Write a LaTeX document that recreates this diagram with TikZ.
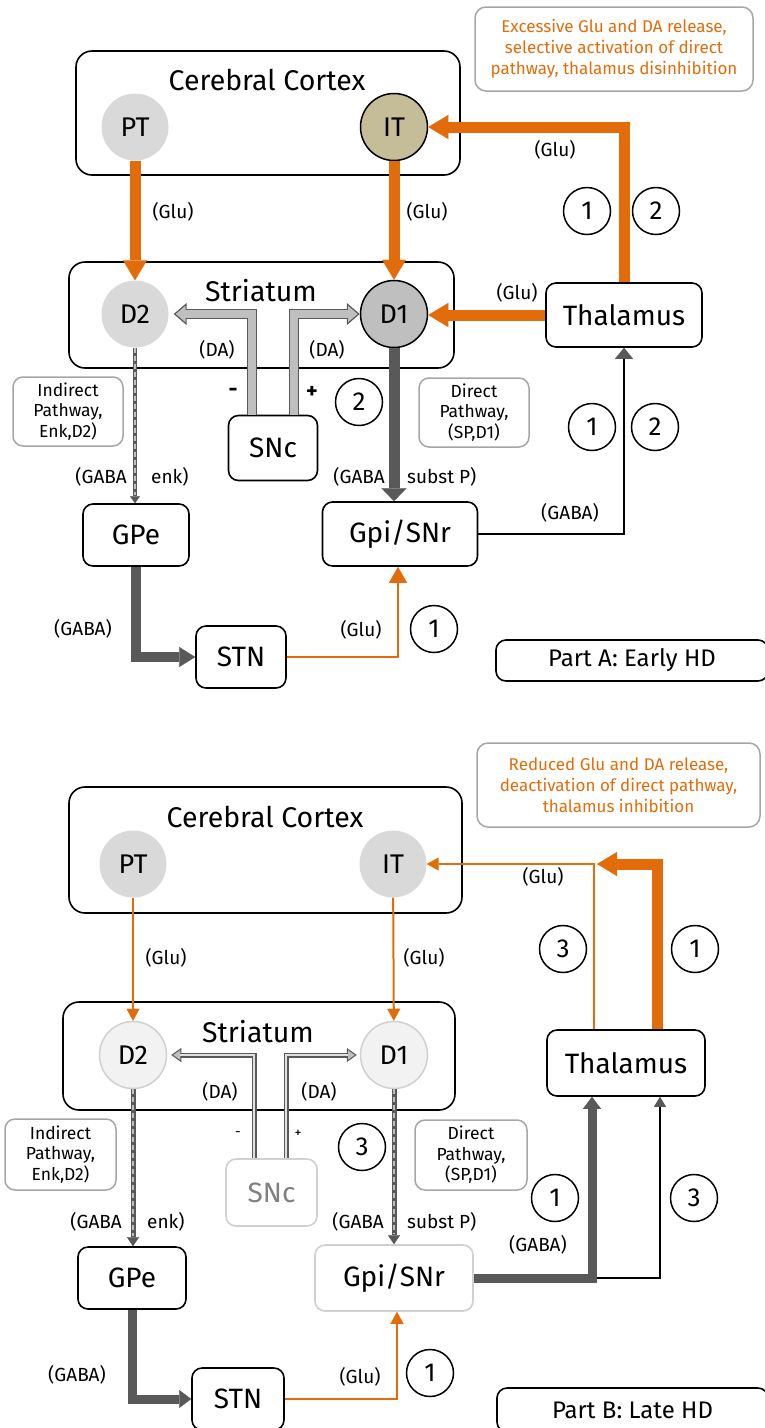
\documentclass[tikz,border=0pt]{standalone}
\usepackage{fontspec}
\setmainfont{Fira Sans}
\usetikzlibrary{arrows.meta}
\definecolor{orng}{HTML}{E36C0A}
\definecolor{dgray}{HTML}{595959}
\definecolor{lgray}{HTML}{BFBFBF}
\definecolor{cgray}{HTML}{D9D9D9}
\definecolor{itTan}{HTML}{C4BD97}
\definecolor{pale}{HTML}{F2F2F2}
\definecolor{bgray}{HTML}{A6A6A6}
\definecolor{sgray}{HTML}{D0D0D0}
\definecolor{mgray}{HTML}{808080}
\definecolor{wgray}{HTML}{E0E0E0}
\begin{document}
\begin{tikzpicture}[x=1pt,y=-1pt,
 bigbox/.style={draw, line width=1.6, rounded corners=16, inner sep=0},
 nbox/.style={draw, line width=1.6, rounded corners=10, fill=white, inner sep=0, font=\fontsize{28}{30}\selectfont},
 note/.style={draw=bgray, line width=1.5, rounded corners=11, align=center, inner sep=0, text=orng, font=\fontsize{17}{21}\selectfont},
 pathbox/.style={draw=bgray, line width=1.5, rounded corners=10, align=center, inner sep=0, font=\fontsize{17.5}{20.5}\selectfont},
 ttl/.style={font=\fontsize{28.5}{30}\selectfont},
 neu/.style={circle, minimum size=67, inner sep=0, font=\fontsize{27}{27}\selectfont},
 lbl/.style={font=\fontsize{19}{21}\selectfont, inner sep=0},
 num/.style={circle, draw, line width=1.5, minimum size=47, inner sep=0, font=\fontsize{26}{26}\selectfont},
 othick/.style={draw=orng, line width=11, -{Triangle[width=24,length=20,line width=0.1pt]}},
 othin/.style={draw=orng, line width=2, -{Triangle[width=18,length=16,line width=0.1pt]}},
 othinB/.style={draw=orng, line width=2, -{Triangle[width=13,length=12,line width=0.1pt]}},
 dthick/.style={draw=dgray, line width=11, -{Triangle[width=25,length=13,line width=0.1pt]}},
 dmid/.style={draw=dgray, line width=10, -{Triangle[width=20,length=16,line width=0.1pt]}},
 dmidB/.style={draw=dgray, line width=9, -{Triangle[width=18,length=12,line width=0.1pt]}},
 blk/.style={draw=black, line width=1.8, -{Triangle[width=18,length=11,line width=0.1pt,color=dgray]}},
 blkB/.style={draw=black, line width=1.8, -{Triangle[width=12,length=10,line width=0.1pt,color=dgray]}},
 hollow/.style={draw=dgray, line width=10, -{Triangle[width=22,length=13,line width=1.2,fill=lgray]},
   postaction={draw=lgray, line width=7.4, -, shorten >=11.5}},
 hollowB/.style={draw=dgray, line width=5, -{Triangle[width=14,length=10,line width=1,fill=lgray]},
   postaction={draw=wgray, line width=2.6, -, shorten >=9}},
 dashA/.style={draw=dgray, line width=4.8, -{Triangle[width=10,length=7,line width=0.1pt]},
   postaction={draw=lgray, line width=1.4, -, dash pattern=on 5pt off 3pt, shorten >=8}},
 dashB/.style={draw=dgray, line width=5, -{Triangle[width=12,length=9,line width=0.1pt]},
   postaction={draw=lgray, line width=1.4, -, dash pattern=on 5pt off 3pt, shorten >=10}}
]
\useasboundingbox (0,0) rectangle (765,1428);

% ===================== Part A =====================
\node[note, minimum width=278, minimum height=84] (noteA) at (614,49) {Excessive Glu and DA release,\\selective activation of direct\\pathway, thalamus disinhibition};
\node[bigbox, minimum width=384, minimum height=124] (ctxA) at (268,113) {};
\node[ttl] (ctxAt) at (267,80) {Cerebral Cortex};
\node[neu, fill=cgray] (ptA) at (135,127) {PT};
\node[neu, fill=itTan, draw, line width=1.5] (itA) at (394,127) {IT};
\node[bigbox, minimum width=385, minimum height=106] (strA) at (261.5,315) {};
\node[ttl] (strAt) at (261,291) {Striatum};
\node[neu, fill=cgray] (d2A) at (135,314) {D2};
\node[neu, fill=lgray, draw, line width=1.5] (d1A) at (394,314) {D1};
\node[nbox, minimum width=89, minimum height=65] (sncA) at (273,448) {SNc};
\node[pathbox, minimum width=110, minimum height=69] (indA) at (68,411.5) {Indirect\\Pathway,\\Enk,D2)};
\node[pathbox, minimum width=110, minimum height=69] (dirA) at (474,412.5) {Direct\\Pathway,\\(SP,D1)};
\node[nbox, minimum width=106, minimum height=62] (gpeA) at (136,535) {GPe};
\node[nbox, minimum width=155, minimum height=64] (gpiA) at (400,534) {Gpi/SNr};
\node[nbox, minimum width=156, minimum height=64] (thalA) at (624,315) {Thalamus};
\node[nbox, minimum width=90, minimum height=62] (stnA) at (241,657) {STN};
\node[nbox, minimum width=272, minimum height=41, font=\fontsize{24}{26}\selectfont] (partA) at (632,660.5) {Part A: Early HD};

\draw[othick] (ptA) -- (d2A);
\draw[othick] (itA) -- (d1A);
\draw[othick] (thalA.north) |- (itA.east);
\draw[othick] (thalA.west) -- (thalA.west -| d1A.east);
\draw[dthick] (d1A.south) -- (d1A.south |- gpiA.north);
\draw[blk] (gpiA.east) -| (thalA.south);
\draw[dashA] (d2A.south) -- (d2A.south |- gpeA.north);
\draw[dmid] (gpeA.south) |- (stnA.west);
\draw[othin] (stnA.east) -| ([xshift=-2]gpiA.south);
\draw[hollow] ([xshift=-21]sncA.north) |- ([xshift=5]d2A.east);
\draw[hollow] ([xshift=21]sncA.north) |- (d1A.west);

\node[lbl] (lA1) at (173,212) {(Glu)};
\node[lbl] (lA2) at (427,212) {(Glu)};
\node[lbl] (lA3) at (555,150) {(Glu)};
\node[lbl] (lA4) at (517,293) {(Glu)};
\node[lbl] (lA5) at (217,350) {(DA)};
\node[lbl] (lA6) at (327,350) {(DA)};
\node[lbl, font=\fontsize{22}{22}\selectfont\bfseries] (lA7) at (233,392) {-};
\node[lbl, font=\fontsize{22}{22}\selectfont\bfseries] (lA8) at (312,392) {+};
\node[lbl, anchor=east] (lA9) at (127,477) {(GABA};
\node[lbl, anchor=west] (lA10) at (151,477) {enk)};
\node[lbl, anchor=east] (lA11) at (385,477) {(GABA};
\node[lbl, anchor=west] (lA12) at (407,477) {subst P)};
\node[lbl] (lA13) at (570,513) {(GABA)};
\node[lbl] (lA14) at (83,629) {(GABA)};
\node[lbl] (lA15) at (361,630) {(Glu)};

\node[num] (nA1) at (587,211) {1};
\node[num] (nA2) at (656,211) {2};
\node[num] (nA3) at (359,402) {2};
\node[num] (nA4) at (592,427) {1};
\node[num] (nA5) at (655,427) {2};
\node[num] (nA6) at (434,629) {1};

% ===================== Part B =====================
\node[note, minimum width=283, minimum height=84] (noteB) at (618.5,785) {Reduced Glu and DA release,\\deactivation of direct pathway,\\thalamus inhibition};
\node[bigbox, minimum width=393, minimum height=126] (ctxB) at (265.5,850) {};
\node[ttl] (ctxBt) at (265,817) {Cerebral Cortex};
\node[neu, fill=cgray] (ptB) at (133,864) {PT};
\node[neu, fill=cgray] (itB) at (393,864) {IT};
\node[bigbox, minimum width=392, minimum height=108] (strB) at (259,1056) {};
\node[ttl] (strBt) at (258,1032) {Striatum};
\node[neu, fill=pale, draw=sgray, line width=1.5] (d2B) at (133,1055) {D2};
\node[neu, fill=pale, draw=sgray, line width=1.5] (d1B) at (394,1055) {D1};
\node[nbox, draw=sgray, text=mgray, minimum width=91, minimum height=67] (sncB) at (271.5,1192.5) {SNc};
\node[pathbox, minimum width=111, minimum height=71] (indB) at (60.5,1154.5) {Indirect\\Pathway,\\Enk,D2)};
\node[pathbox, minimum width=112, minimum height=70] (dirB) at (471,1155) {Direct\\Pathway,\\(SP,D1)};
\node[nbox, minimum width=108, minimum height=62] (gpeB) at (132,1278) {GPe};
\node[nbox, draw=sgray, minimum width=158, minimum height=66] (gpiB) at (394,1278) {Gpi/SNr};
\node[nbox, minimum width=158, minimum height=66] (thalB) at (626,1063) {Thalamus};
\node[nbox, minimum width=92, minimum height=62] (stnB) at (238,1399) {STN};
\node[nbox, minimum width=271, minimum height=44, font=\fontsize{24}{26}\selectfont] (partB) at (632.5,1410) {Part B: Late HD};

\coordinate (thK) at (597,864);
\draw[othinB] (ptB) -- (d2B);
\draw[othinB] (itB) -- (d1B);
\draw[othinB] ([xshift=-32]thalB.north) |- (itB.east);
\draw[othick] ([xshift=31]thalB.north) |- (thK);
\draw[blkB] (gpiB.east) -| ([xshift=34]thalB.south);
\draw[dmidB] (gpiB.east) -| ([xshift=-34]thalB.south);
\draw[dashB] (d2B.south) -- (d2B.south |- gpeB.north);
\draw[dashB] (d1B.south) -- (d1B.south |- gpiB.north);
\draw[dmidB] (gpeB.south) |- (stnB.west);
\draw[othinB] (stnB.east) -| ([xshift=3]gpiB.south);
\draw[hollowB] ([xshift=-17.5]sncB.north) |- ([xshift=4]d2B.east);
\draw[hollowB] ([xshift=14.5]sncB.north) |- ([xshift=-3]d1B.west);

\node[lbl] (lB1) at (166,958) {(Glu)};
\node[lbl] (lB2) at (424,958) {(Glu)};
\node[lbl] (lB3) at (543,877) {(Glu)};
\node[lbl] (lB5) at (220,1092) {(DA)};
\node[lbl] (lB6) at (319,1092) {(DA)};
\node[lbl, font=\fontsize{14}{14}\selectfont] (lB7) at (238,1134) {-};
\node[lbl, font=\fontsize{14}{14}\selectfont] (lB8) at (298,1134) {+};
\node[lbl, anchor=east] (lB9) at (122,1222) {(GABA};
\node[lbl, anchor=west] (lB10) at (147,1222) {enk)};
\node[lbl, anchor=east] (lB11) at (384,1222) {(GABA};
\node[lbl, anchor=west] (lB12) at (407,1222) {subst P)};
\node[lbl] (lB13) at (538,1245) {(GABA)};
\node[lbl] (lB14) at (77,1375) {(GABA)};
\node[lbl] (lB15) at (360,1377) {(Glu)};

\node[num] (nB1) at (563,949) {3};
\node[num] (nB2) at (695,949) {1};
\node[num] (nB3) at (362,1147) {3};
\node[num] (nB4) at (555,1198) {1};
\node[num] (nB5) at (694,1198) {3};
\node[num] (nB6) at (430,1373) {1};
\end{tikzpicture}
\end{document}
